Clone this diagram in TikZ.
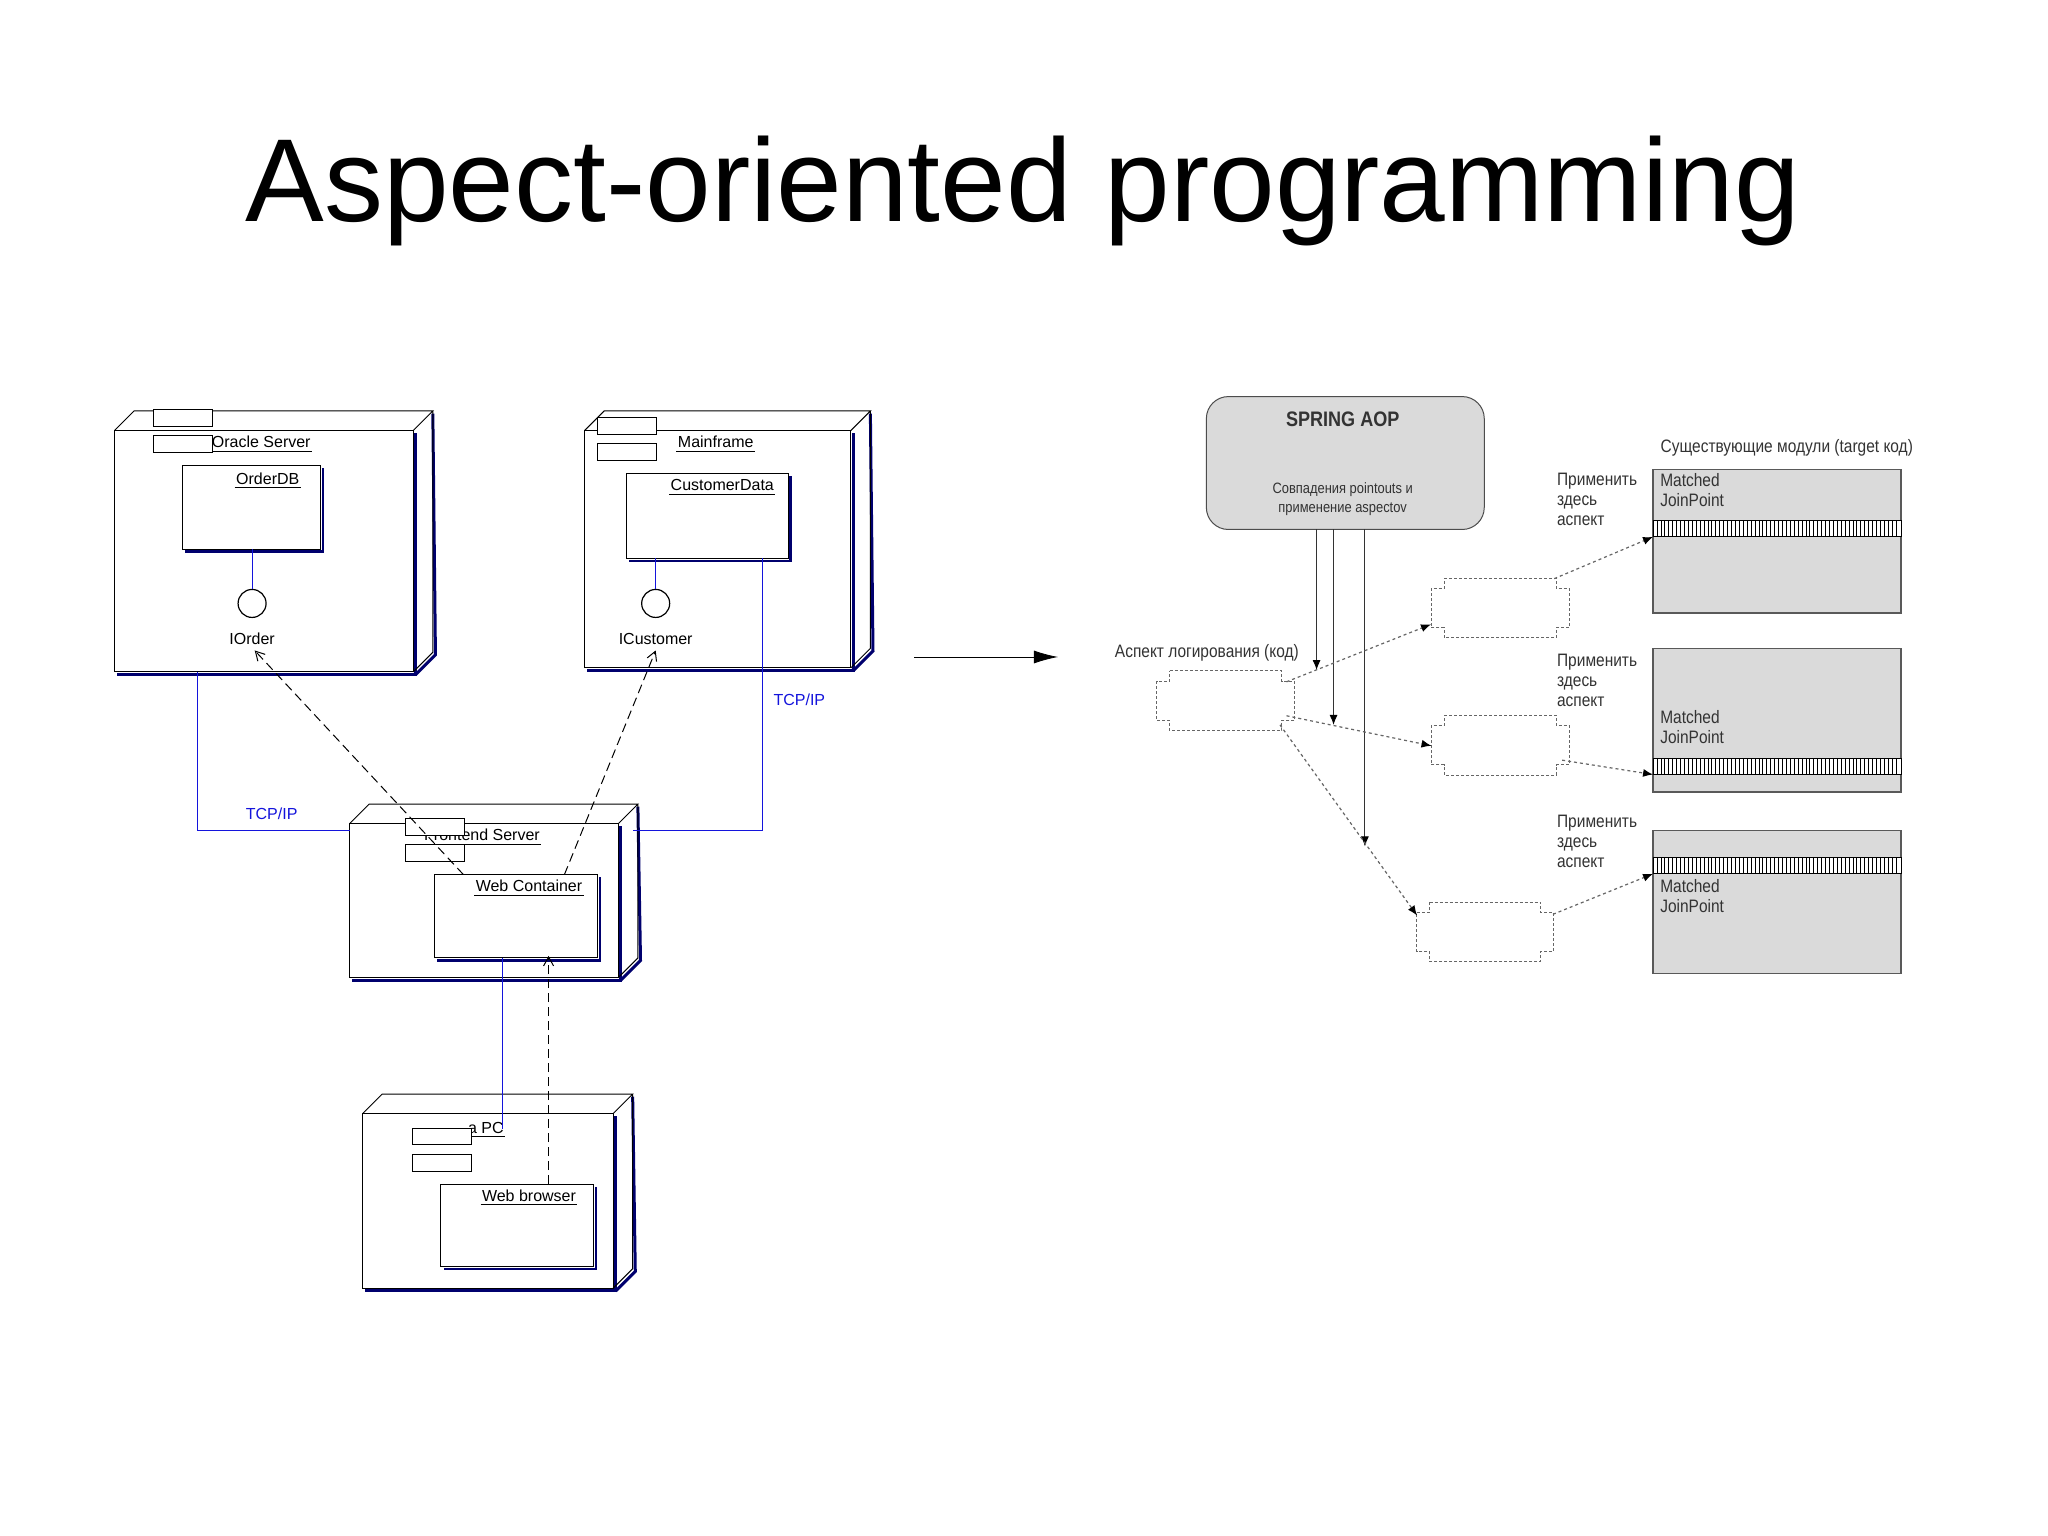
\documentclass[tikz,border=0pt]{standalone}
\usepackage{fontspec}
\setmainfont{Liberation Sans}
\newfontfamily\narrowf{Liberation Sans}[FakeStretch=0.86]
\usetikzlibrary{fit,arrows.meta,calc}
\definecolor{uml}{RGB}{20,20,220}
\definecolor{shad}{RGB}{0,0,110}
\definecolor{boxg}{RGB}{218,218,218}
\newcommand\mythreed[1]{%
  \draw[shad,line width=3pt] ([shift={(2,2)}]#1.north east)--([shift={(2,2)}]#1.south east)--([shift={(2,2)}]#1.south west);
  \draw[shad,line width=3pt] ([shift={(15,-13)}]#1.north east)--([shift={(17,-13)}]#1.south east)--([shift={(2,2)}]#1.south east);
  \draw[fill=white] (#1.north west) rectangle (#1.south east);
  \draw (#1.north west)--++(15,-15)--([shift={(15,-15)}]#1.north east)--(#1.north east)
        ([shift={(15,-15)}]#1.north east)--([shift={(15,-15)}]#1.south east)--(#1.south east);}
\newcommand\mycomp[1]{%
  \draw[shad,line width=2.5pt] ([shift={(2,2)}]#1.north east)--([shift={(2,2)}]#1.south east)--([shift={(2,2)}]#1.south west);
  \draw[fill=white] (#1.north west) rectangle (#1.south east);
  \draw[fill=white] ([shift={(-22,-10)}]#1.north west) rectangle ([shift={(23,-23)}]#1.north west);
  \draw[fill=white] ([shift={(-22,-30)}]#1.north west) rectangle ([shift={(23,-43)}]#1.north west);}
\newcommand\mystep[1]{%
  \draw[densely dashed,gray!80!black,line width=1pt]
   ([shift={(10,0)}]#1.north west)--([shift={(-10,0)}]#1.north east)--([shift={(-10,8)}]#1.north east)--([shift={(0,8)}]#1.north east)
   --([shift={(0,-8)}]#1.south east)--([shift={(-10,-8)}]#1.south east)--([shift={(-10,0)}]#1.south east)
   --([shift={(10,0)}]#1.south west)--([shift={(10,-8)}]#1.south west)--([shift={(0,-8)}]#1.south west)
   --([shift={(0,8)}]#1.north west)--([shift={(10,8)}]#1.north west)--cycle;}
\newcommand\mymod[3]{%
  \draw[fill=boxg,draw=gray!70!black,line width=1.2pt] (#1.north west) rectangle (#1.south east);
  \draw[fill=white,line width=0.8pt] ($(#1.north west)+(0,#2)$) rectangle ($(#1.north east)+(0,#3)$);
  \foreach \i in {3,6,...,186} \draw[line width=0.7pt] ($(#1.north west)+(\i,#2)$)--($(#1.north west)+(\i,#3)$);}
\begin{document}
\begin{tikzpicture}[x=1.306pt,y=-1.306pt,line width=1pt,
  lbl/.style={font=\fontsize{16}{18}\selectfont,inner sep=1pt},
  ul/.style={lbl,font=\fontsize{16}{18}\selectfont,text depth=2pt,append after command={(\tikzlastnode.south west) edge[line width=0.8pt] (\tikzlastnode.south east)}},
  blue/.style={uml,line width=1pt},
  dep/.style={dashed,dash pattern=on 9pt off 5pt,line width=1pt,-{Straight Barb[open,length=9pt,width=10pt]}},
  rt/.style={font=\narrowf\fontsize{18}{20}\selectfont,text=black!80,inner sep=1pt},
  dotar/.style={densely dashed,dash pattern=on 3pt off 3pt,gray!80!black,line width=1.2pt,-{Latex[black,length=10pt,width=8pt]}},
  solar/.style={line width=0.9pt,gray!40!black,-{Latex[black,length=10pt,width=8pt]}},
  fitb/.style={inner sep=0pt,draw=none}]
\useasboundingbox[fill=white] (0,0) rectangle (1568,1175.3);
\node[font=\fontsize{118}{130}\selectfont] (title) at (783,146) {Aspect-oriented programming};
% ---------- left: deployment diagram
\node[fitb,fit={(88,330)(316,514)}] (oracle) {}; \mythreed{oracle}
\node[fitb,fit={(448,330)(651,511)}] (mainf) {}; \mythreed{mainf}
\node[fitb,fit={(268,631)(473,748)}] (front) {}; \mythreed{front}
\node[fitb,fit={(278,853)(469,986)}] (apc) {}; \mythreed{apc}
\node[ul] (toracle) at (200,339) {Oracle Server};
\node[ul] (tmain) at (548,339) {Mainframe};
\node[ul] (tfront) at (369,640) {Frontend Server};
\node[ul] (tapc) at (372,864) {a PC};
\node[fitb,fit={(140,357)(245,420)}] (orderdb) {}; \mycomp{orderdb}
\node[fitb,fit={(480,363)(603,427)}] (custdata) {}; \mycomp{custdata}
\node[fitb,fit={(333,670)(457,733)}] (webc) {}; \mycomp{webc}
\node[fitb,fit={(338,907)(454,969)}] (webb) {}; \mycomp{webb}
\node[ul] (torderdb) at (205,367) {OrderDB};
\node[ul] (tcust) at (553,372) {CustomerData};
\node[ul] (twebc) at (405,679) {Web Container};
\node[ul] (twebb) at (405,916) {Web browser};
\node[circle,draw,line width=1.2pt,minimum size=28pt,inner sep=0] (iorder) at (193,462) {};
\node[circle,draw,line width=1.2pt,minimum size=28pt,inner sep=0] (icust) at (502,462) {};
\node[lbl] (liorder) at (193,489) {IOrder};
\node[lbl] (licust) at (502,489) {ICustomer};
\draw[blue] (orderdb.south -| iorder) -- (iorder);
\draw[blue] (custdata.south -| icust) -- (icust);
\coordinate (c1) at (151,636); \coordinate (c2) at (584,636);
\draw[blue] (oracle.south -| c1) -- (c1) -- (c1 -| front.west);
\draw[blue] (custdata.south -| c2) -- (c2) -- ([xshift=15]c2 -| front.east);
\draw[blue] (webc.south -| 385,0) -- ([yshift=-15]apc.north -| 385,0);
\node[lbl,text=uml] (tcp1) at (208,623) {TCP/IP};
\node[lbl,text=uml] (tcp2) at (612,536) {TCP/IP};
\draw[dep] ([xshift=29]webc.north west) -- (195,498);
\draw[dep] ([xshift=-33]webc.north east) -- (502,498);
\draw[dep] (webb.north -| 420,0) -- ([yshift=2]webc.south -| 420,0);
% ---------- central arrow
\coordinate (ma) at (700,503); \coordinate (mb) at (810,503);
\draw[line width=0.8pt,-{Latex[length=24pt,width=13pt]}] (ma) -- (mb);
% ---------- right: Spring AOP
\node[fitb,fit={(924,304)(1136,405)}] (spring) {};
\draw[fill=boxg,draw=gray!60!black,line width=1pt,rounded corners=22pt] (spring.north west) rectangle (spring.south east);
\node[rt,font=\narrowf\bfseries\fontsize{21}{24}\selectfont] (tspring) at (1028,321) {SPRING AOP};
\node[rt,font=\narrowf\fontsize{15}{19}\selectfont,align=center] (tsp2) at (1028,382) {Совпадения pointouts и\\применение aspectov};
\node[rt] (tmods) at (1368,343) {Существующие модули (target код)};
\node[fitb,fit={(1266,360)(1455,469)}] (m1) {}; \mymod{m1}{39}{51}
\node[fitb,fit={(1266,497)(1455,606)}] (m2) {}; \mymod{m2}{84}{96}
\node[fitb,fit={(1266,636)(1455,745)}] (m3) {}; \mymod{m3}{21}{33}
\node[rt,align=left,anchor=north west] (mt1) at (1270,361) {Matched\\JoinPoint};
\node[rt,align=left,anchor=north west] (mt2) at (1270,543) {Matched\\JoinPoint};
\node[rt,align=left,anchor=north west] (mt3) at (1270,672) {Matched\\JoinPoint};
\node[rt,align=left,anchor=north west] (p1) at (1191,361) {Применить\\здесь\\аспект};
\node[rt,align=left,anchor=north west] (p2) at (1191,500) {Применить\\здесь\\аспект};
\node[rt,align=left,anchor=north west] (p3) at (1191,623) {Применить\\здесь\\аспект};
\node[rt] (tasp) at (924,500) {Аспект логирования (код)};
\node[fitb,fit={(886,514)(991,559)}] (asp) {}; \mystep{asp}
\node[fitb,fit={(1096,443)(1201,488)}] (b1) {}; \mystep{b1}
\node[fitb,fit={(1096,548)(1201,593)}] (b2) {}; \mystep{b2}
\node[fitb,fit={(1085,691)(1189,736)}] (b3) {}; \mystep{b3}
\draw[solar] (spring.south -| 1008,0) -- (1008,513);
\draw[solar] (spring.south -| 1021,0) -- (1021,555);
\draw[solar] (spring.south -| 1045,0) -- (1045,648);
\draw[dotar] (985,522) -- (b1.south west |- 0,478);
\draw[dotar] (1190,443) -- (m1.west |- 0,411);
\draw[dotar] (985,548) -- (1096,571);
\draw[dotar] (1196,582) -- (m2.west |- 0,593);
\draw[dotar] (980,555) -- (1085,701);
\draw[dotar] (1189,700) -- (m3.west |- 0,669);
\end{tikzpicture}
\end{document}
